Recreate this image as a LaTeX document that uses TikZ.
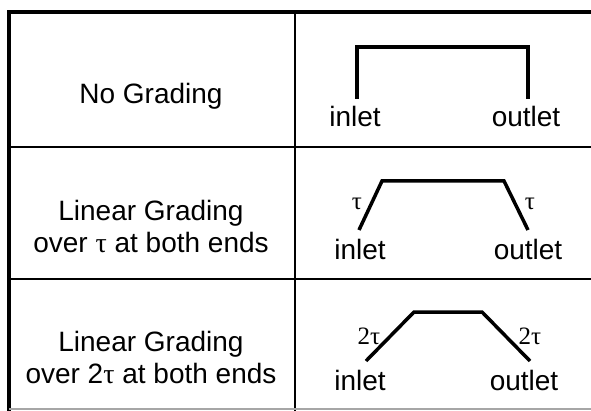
\documentclass[tikz,border=0pt]{standalone}
\usepackage{fontspec}
\setmainfont{Liberation Sans}
\newfontfamily\grk{Liberation Serif}
\begin{document}
\begin{tikzpicture}[x=1pt,y=-1pt,
  txt/.style={font=\fontsize{28}{32}\selectfont, inner sep=0pt, anchor=base},
  gk/.style={font=\grk\fontsize{25}{28}\selectfont, inner sep=0pt},
  thick border/.style={line width=3.5pt, line cap=rect},
  grid/.style={line width=2pt},
  shape line/.style={line width=3.5pt, line join=miter}]
\useasboundingbox (0,0) rectangle (591,411);
% table
\coordinate (tl) at (9,12);
\coordinate (tr) at (591,12);
\coordinate (bl) at (9,411);
\draw[thick border] (bl) -- (tl) -- (tr);
\coordinate (d1) at (295,12);
\coordinate (d2) at (295,411);
\draw[grid] (d1) -- (d2);
\coordinate (r1l) at (9,147);
\coordinate (r1r) at (591,147);
\coordinate (r2l) at (9,279);
\coordinate (r2r) at (591,279);
\draw[grid] (r1l) -- (r1r);
\draw[grid] (r2l) -- (r2r);
\coordinate (bl2) at (9,409);
\coordinate (br2) at (591,409);
\draw[line width=1.5pt, gray!70] (bl2) -- (br2);
% left column
\node[txt] (n1) at (151,104) {No Grading};
\node[txt] (n2a) at (151,221) {Linear Grading};
\node[txt] (n2b) at (151,253) {over {\grk τ} at both ends};
\node[txt] (n3a) at (151,351) {Linear Grading};
\node[txt] (n3b) at (151,383) {over 2{\grk τ} at both ends};
% row 1 shape
\coordinate (a1) at (357,99);
\coordinate (a2) at (357,47);
\coordinate (a3) at (528,47);
\coordinate (a4) at (528,99);
\draw[shape line] (a1) -- (a2) -- (a3) -- (a4);
\node[txt] (in1) at (355,127) {inlet};
\node[txt] (out1) at (526,127) {outlet};
% row 2 shape
\coordinate (b1) at (359,230);
\coordinate (b2) at (382,181);
\coordinate (b3) at (504,181);
\coordinate (b4) at (528,230);
\draw[shape line] (b1) -- (b2) -- (b3) -- (b4);
\node[gk] (t2l) at (357,204) {τ};
\node[gk] (t2r) at (530,204) {τ};
\node[txt] (in2) at (360,260) {inlet};
\node[txt] (out2) at (528,260) {outlet};
% row 3 shape
\coordinate (c1) at (366,361);
\coordinate (c2) at (414,312);
\coordinate (c3) at (482,312);
\coordinate (c4) at (530,361);
\draw[shape line] (c1) -- (c2) -- (c3) -- (c4);
\node[gk] (t3l) at (369,336) {2τ};
\node[gk] (t3r) at (530,336) {2τ};
\node[txt] (in3) at (360,390) {inlet};
\node[txt] (out3) at (524,390) {outlet};
\end{tikzpicture}
\end{document}
